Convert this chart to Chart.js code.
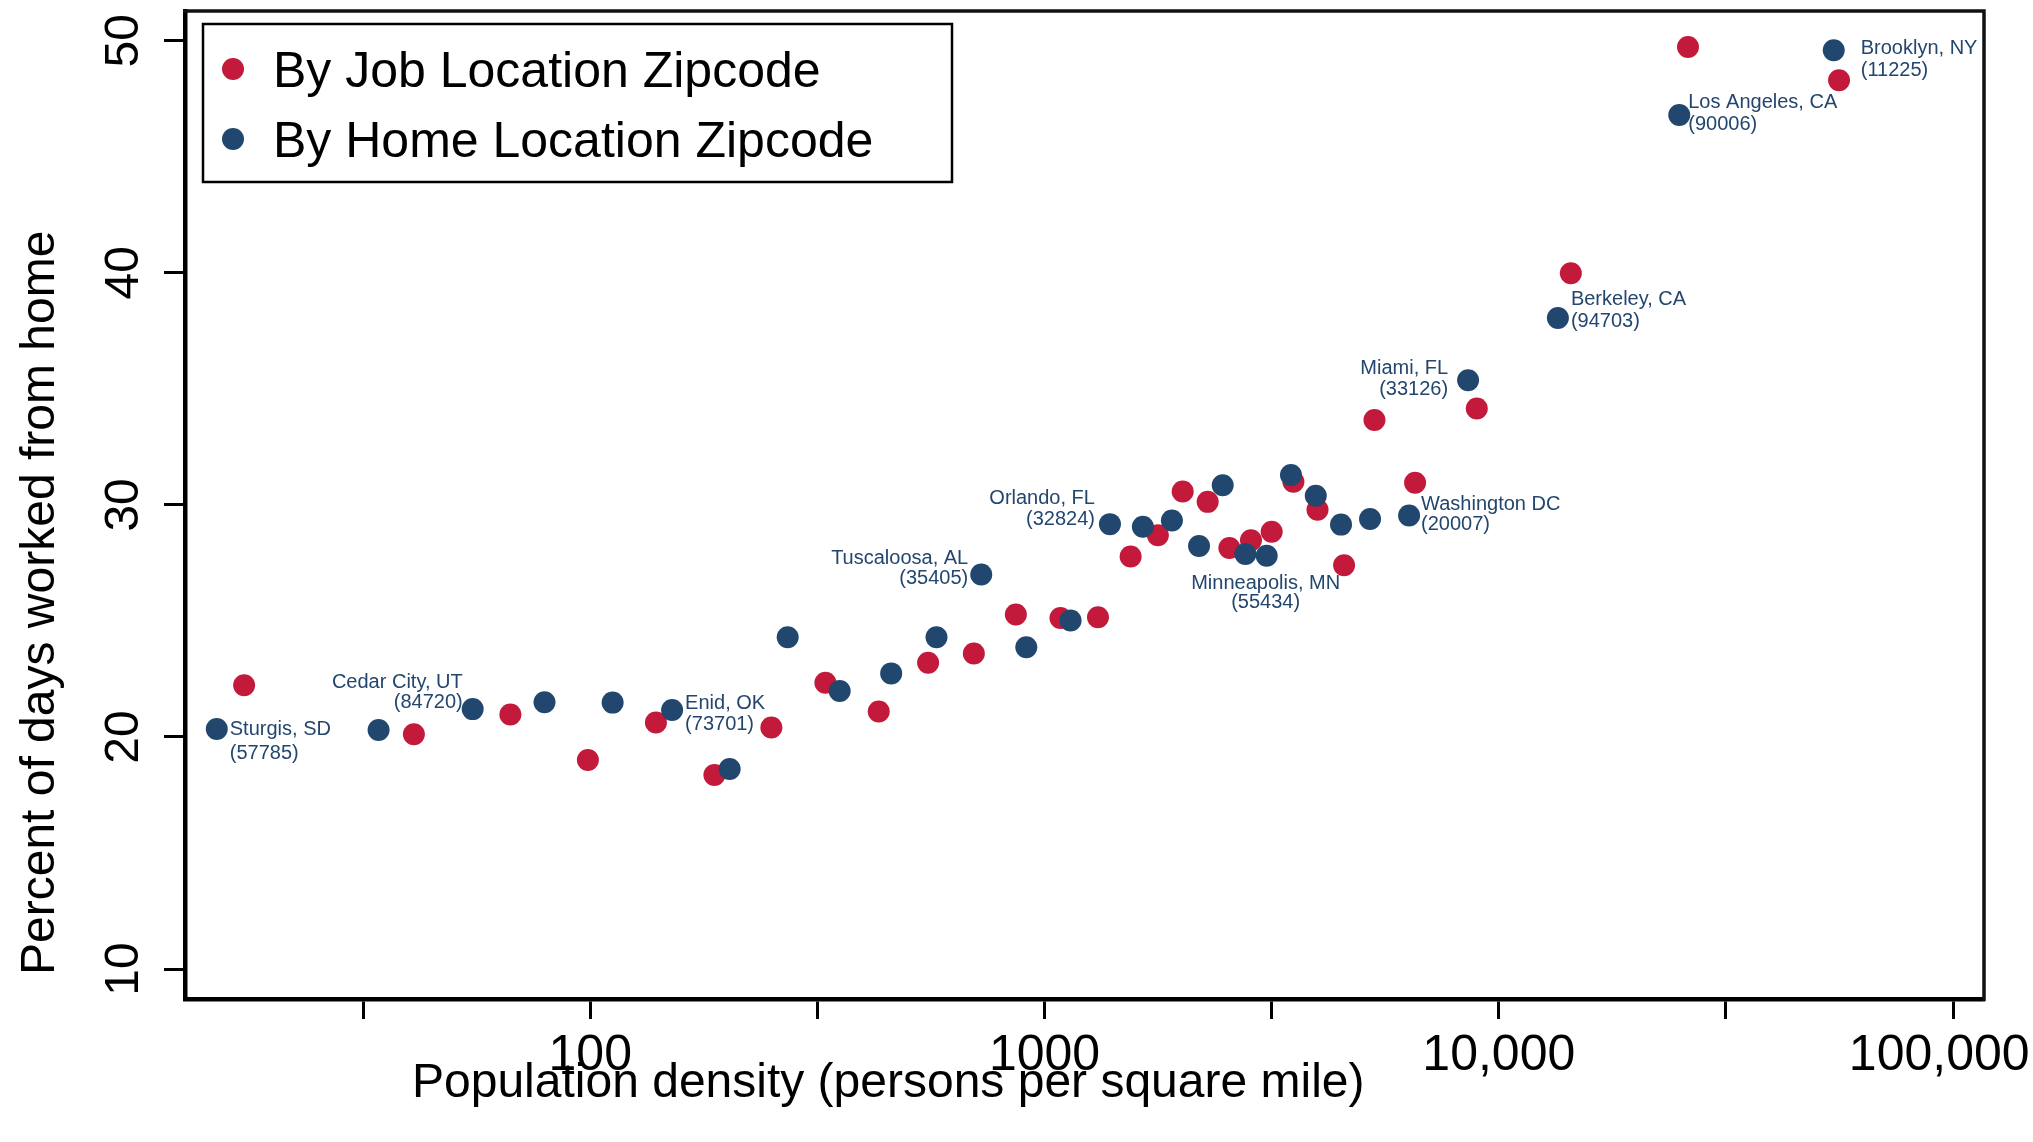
<!DOCTYPE html>
<html>
<head>
<meta charset="utf-8">
<title>Percent of days worked from home by population density</title>
<script src="https://cdn.jsdelivr.net/npm/chart.js@4.4.1/dist/chart.umd.min.js"></script>
<style>
  html, body { margin: 0; padding: 0; background: #fff; }
  #wrap { width: 2033px; height: 1142px; }
</style>
</head>
<body>
<div id="wrap"><canvas id="myChart" width="2033" height="1142"></canvas></div>
<script>
// red points: by job location zipcode (density, percent of days at home)
const jobDensity = [17.3, 40.9, 66.7, 98.8, 139.5, 187.6, 250.4, 329.3, 431.5, 554.2,
    698.8, 864.6, 1084, 1311, 1547, 1776, 2014, 2286, 2552, 2847,
    3162, 3530, 3989, 4564, 5324, 6541, 8943, 14405, 26085, 56094];
const jobShare = [22.23, 20.12, 20.97, 19.01, 20.62, 18.36, 20.41, 22.34, 21.10, 23.20,
    23.60, 25.28, 25.13, 25.16, 27.78, 28.69, 30.58, 30.13, 28.14, 28.48,
    28.84, 31.00, 29.79, 27.40, 33.66, 30.95, 34.15, 39.98, 49.73, 48.30];

// blue points: by home location zipcode
const homeDensity = [15.06, 34.2, 55.1, 79.3, 112.0, 151.4, 202.7, 272.0, 354.0, 459.6,
    578.3, 725.5, 911.6, 1141, 1393, 1646, 1907, 2188, 2467, 2768,
    3083, 3487, 3954, 4494, 5206, 6345, 8557, 13490, 24955, 54602];
const homeShare = [20.34, 20.30, 21.20, 21.50, 21.48, 21.16, 18.62, 24.30, 21.98, 22.74,
    24.30, 27.00, 23.87, 25.02, 29.17, 29.06, 29.33, 28.23, 30.85, 27.88,
    27.81, 31.29, 30.39, 29.15, 29.39, 29.54, 35.37, 38.05, 46.80, 49.59];

// names written next to some of the blue points
const placeNames = ['Sturgis, SD', null, 'Cedar City, UT', null, null, 'Enid, OK', null, null, null, null,
    null, 'Tuscaloosa, AL', null, null, 'Orlando, FL', null, null, null, null, null,
    'Minneapolis, MN', null, null, null, null, 'Washington DC', 'Miami, FL', 'Berkeley, CA', 'Los Angeles, CA', 'Brooklyn, NY'];
const placeZips = ['(57785)', null, '(84720)', null, null, '(73701)', null, null, null, null,
    null, '(35405)', null, null, '(32824)', null, null, null, null, null,
    '(55434)', null, null, null, null, '(20007)', '(33126)', '(94703)', '(90006)', '(11225)'];

const seriesNames = ['By Job Location Zipcode', 'By Home Location Zipcode'];
const xTickValues = [31.62, 100, 316.2, 1000, 3162, 10000, 31623, 100000];
const xTickLabels = ['', '100', '', '1000', '', '10,000', '', '100,000'];
const yTickValues = [10, 20, 30, 40, 50];
const xTitle = 'Population density (persons per square mile)';
const yTitle = 'Percent of days worked from home';

const red = '#c3193b';
const navy = '#21476f';
const fontName = '"Liberation Sans", Arial, Helvetica, sans-serif';

// align, dx, dy first line, dy second line (relative to the point)
const labelSpots = {
    0: ['left', 13, 0, 24],
    2: ['right', -10, -27, -7],
    5: ['left', 13, -7, 14],
    11: ['right', -13, -16, 4],
    14: ['right', -15, -26, -5],
    20: ['center', -1, 28, 47],
    25: ['left', 12, -11, 9],
    26: ['right', -20, -12, 9],
    27: ['left', 13, -19, 3],
    28: ['left', 9, -12, 10],
    29: ['left', 27, -2, 20]
};

Chart.defaults.font.family = fontName;

var extras = {
    id: 'extras',
    beforeDatasetsDraw: function (chart) {
        var a = chart.chartArea;
        var ctx = chart.ctx;
        ctx.save();
        ctx.strokeStyle = '#111';
        ctx.lineWidth = 3.5;
        ctx.beginPath();
        ctx.moveTo(a.left - 2, a.top);
        ctx.lineTo(a.right, a.top);
        ctx.lineTo(a.right, a.bottom + 2);
        ctx.stroke();
        ctx.restore();
    },
    afterDraw: function (chart) {
        var ctx = chart.ctx;
        ctx.save();

        // point labels
        var meta = chart.getDatasetMeta(1);
        ctx.font = '20px ' + fontName;
        ctx.fillStyle = '#23466e';
        ctx.textBaseline = 'middle';
        placeNames.forEach(function (name, i) {
            if (!name) return;
            var s = labelSpots[i];
            var pt = meta.data[i];
            ctx.textAlign = s[0];
            ctx.fillText(name, pt.x + s[1], pt.y + s[2]);
            ctx.fillText(placeZips[i], pt.x + s[1], pt.y + s[3]);
        });

        // legend box
        ctx.fillStyle = '#fff';
        ctx.fillRect(203, 24, 749, 158);
        ctx.lineWidth = 2.5;
        ctx.strokeStyle = '#000';
        ctx.strokeRect(203, 24, 749, 158);
        chart.data.datasets.forEach(function (ds, i) {
            var y = 69 + i * 70;
            ctx.fillStyle = ds.backgroundColor;
            ctx.beginPath();
            ctx.arc(233, y, 11, 0, Math.PI * 2);
            ctx.fill();
            ctx.fillStyle = '#000';
            ctx.font = '50px ' + fontName;
            ctx.textAlign = 'left';
            ctx.textBaseline = 'alphabetic';
            ctx.fillText(ds.label, 273, y + 18);
        });

        // axis titles
        ctx.fillStyle = '#000';
        ctx.font = '48px ' + fontName;
        ctx.textAlign = 'left';
        ctx.textBaseline = 'alphabetic';
        ctx.fillText(xTitle, 412, 1097);
        ctx.translate(54, 975);
        ctx.rotate(-Math.PI / 2);
        ctx.fillText(yTitle, 0, 0);
        ctx.restore();
    }
};

var ctx = document.getElementById('myChart').getContext('2d');

var myChart = new Chart(ctx, {
    type: 'scatter',
    data: {
        datasets: [{
            label: seriesNames[0],
            data: jobDensity.map(function (x, i) { return { x: x, y: jobShare[i] }; }),
            backgroundColor: red,
            borderColor: red,
            borderWidth: 0,
            pointRadius: 11,
            pointHoverRadius: 11,
            order: 1
        }, {
            label: seriesNames[1],
            data: homeDensity.map(function (x, i) { return { x: x, y: homeShare[i] }; }),
            backgroundColor: navy,
            borderColor: navy,
            borderWidth: 0,
            pointRadius: 11,
            pointHoverRadius: 11,
            order: 0
        }]
    },
    options: {
        responsive: false,
        animation: false,
        layout: { padding: { top: 8, right: 49, bottom: 0, left: 0 } },
        plugins: {
            legend: { display: false },
            tooltip: { enabled: false }
        },
        scales: {
            x: {
                type: 'logarithmic',
                min: 12.82,
                max: 116950,
                afterBuildTicks: function (axis) {
                    axis.ticks = xTickValues.map(function (v) { return { value: v }; });
                },
                afterFit: function (axis) {
                    axis.height = 143;
                    axis.paddingLeft = 0;
                    axis.paddingRight = 0;
                },
                grid: { drawOnChartArea: false, drawTicks: true, tickLength: 20, tickWidth: 3, tickColor: '#000' },
                border: { display: true, color: '#000', width: 4.5 },
                ticks: {
                    autoSkip: false,
                    minRotation: 0,
                    maxRotation: 0,
                    padding: 7,
                    color: '#000',
                    font: { size: 50 },
                    callback: function (value, index) {
                        var label = xTickLabels[index];
                        // last label sits pushed left against the edge, as in the original
                        if (index === xTickLabels.length - 1) label += '  ';
                        return label;
                    }
                }
            },
            y: {
                min: 8.71,
                max: 51.28,
                afterBuildTicks: function (axis) {
                    axis.ticks = yTickValues.map(function (v) { return { value: v }; });
                },
                afterFit: function (axis) {
                    axis.width = 185;
                    axis.paddingTop = 0;
                    axis.paddingBottom = 0;
                },
                grid: { drawOnChartArea: false, drawTicks: true, tickLength: 21, tickWidth: 3, tickColor: '#000' },
                border: { display: true, color: '#000', width: 4.5 },
                ticks: {
                    minRotation: 90,
                    maxRotation: 90,
                    crossAlign: 'center',
                    padding: 13,
                    color: '#000',
                    font: { size: 48 }
                }
            }
        }
    },
    plugins: [extras]
});
</script>
</body>
</html>
